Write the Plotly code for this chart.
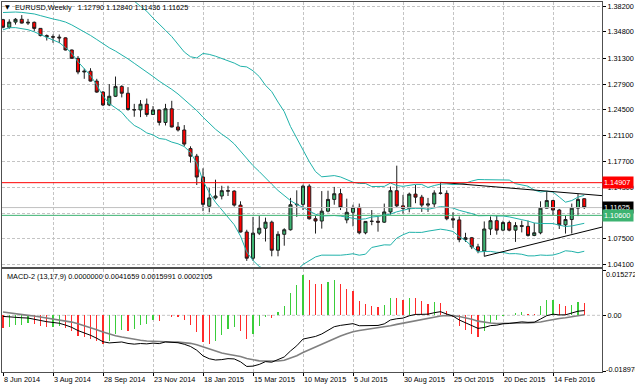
import numpy as np
import pandas as pd
import plotly.graph_objects as go

# ---------------- data (EURUSD weekly) ----------------
first_week = "2014-06-08"
opens = [1.3640, 1.3540, 1.3608, 1.3645, 1.3595, 1.3605, 1.3525, 1.3430, 1.3415, 1.3410,
         1.3400, 1.3240, 1.3130, 1.2950, 1.2960, 1.2830, 1.2685, 1.2515, 1.2630, 1.2760,
         1.2670, 1.2455, 1.2450, 1.2525, 1.2390, 1.2450, 1.2285, 1.2465, 1.2225, 1.2185,
         1.1940, 1.1840, 1.1565, 1.1180, 1.1290, 1.1315, 1.1385, 1.1380, 1.1195, 1.0840,
         1.0495, 1.0825, 1.0890, 1.0970, 1.0600, 1.0810, 1.0870, 1.1200, 1.1205, 1.1445,
         1.1015, 1.0985, 1.1115, 1.1270, 1.1345, 1.1000, 1.1100, 1.1165, 1.0830, 1.0980,
         1.0982, 1.0970, 1.1105, 1.1385, 1.1185, 1.1150, 1.1340, 1.1300, 1.1195, 1.1210,
         1.1355, 1.1350, 1.1015, 1.1000, 1.0740, 1.0765, 1.0645, 1.0590, 1.0880, 1.0990,
         1.0865, 1.0965, 1.0865, 1.0925, 1.0915, 1.0795, 1.0830, 1.1155, 1.1255, 1.1130,
         1.0935, 1.1005, 1.1155, 1.12790]
highs = [1.3650, 1.3645, 1.3660, 1.3700, 1.3650, 1.3615, 1.3530, 1.3445, 1.3445, 1.3445,
         1.3405, 1.3245, 1.3160, 1.2995, 1.3000, 1.2860, 1.2700, 1.2790, 1.2890, 1.2775,
         1.2750, 1.2530, 1.2580, 1.2600, 1.2500, 1.2455, 1.2530, 1.2570, 1.2290, 1.2250,
         1.1970, 1.1870, 1.1680, 1.1420, 1.1530, 1.1450, 1.1450, 1.1390, 1.1245, 1.0870,
         1.1040, 1.1050, 1.1030, 1.0990, 1.0850, 1.0890, 1.1290, 1.1390, 1.1465, 1.1470,
         1.1050, 1.1380, 1.1385, 1.1435, 1.1410, 1.1280, 1.1200, 1.1215, 1.0985, 1.1130,
         1.1040, 1.1215, 1.1440, 1.1715, 1.1330, 1.1360, 1.1460, 1.1330, 1.1290, 1.1390,
         1.1495, 1.1390, 1.1100, 1.1045, 1.0830, 1.0775, 1.0685, 1.0980, 1.1045, 1.1060,
         1.0990, 1.0990, 1.0970, 1.0990, 1.0990, 1.0960, 1.1245, 1.1375, 1.1265, 1.1145,
         1.1055, 1.1215, 1.1340, 1.12840]
lows = [1.3525, 1.3520, 1.3575, 1.3590, 1.3570, 1.3490, 1.3420, 1.3365, 1.3335, 1.3330,
        1.3235, 1.3125, 1.2920, 1.2860, 1.2825, 1.2675, 1.2500, 1.2500, 1.2620, 1.2615,
        1.2440, 1.2360, 1.2355, 1.2360, 1.2385, 1.2245, 1.2245, 1.2220, 1.2165, 1.1970,
        1.1755, 1.1460, 1.1115, 1.1100, 1.1270, 1.1270, 1.1315, 1.1175, 1.0835, 1.0460,
        1.0460, 1.0800, 1.0715, 1.0520, 1.0520, 1.0660, 1.0860, 1.1040, 1.1130, 1.1005,
        1.0820, 1.0885, 1.1100, 1.1200, 1.1130, 1.0955, 1.0915, 1.0810, 1.0810, 1.0930,
        1.0845, 1.0960, 1.1070, 1.1160, 1.1085, 1.1100, 1.1220, 1.1105, 1.1105, 1.1160,
        1.1335, 1.0995, 1.0895, 1.0705, 1.0710, 1.0615, 1.0560, 1.0520, 1.0800, 1.0805,
        1.0850, 1.0850, 1.0710, 1.0835, 1.0780, 1.0785, 1.0810, 1.1150, 1.1065, 1.0880,
        1.0820, 1.0820, 1.1050, 1.11436]
closes = [1.3540, 1.3608, 1.3645, 1.3595, 1.3605, 1.3525, 1.3430, 1.3415, 1.3410, 1.3400,
          1.3240, 1.3130, 1.2950, 1.2960, 1.2830, 1.2685, 1.2515, 1.2630, 1.2760, 1.2670,
          1.2455, 1.2450, 1.2525, 1.2390, 1.2450, 1.2285, 1.2465, 1.2225, 1.2185, 1.2000,
          1.1840, 1.1565, 1.1205, 1.1290, 1.1315, 1.1385, 1.1380, 1.1195, 1.0840, 1.0495,
          1.0825, 1.0890, 1.0970, 1.0600, 1.0810, 1.0870, 1.1200, 1.1205, 1.1445, 1.1015,
          1.0985, 1.1115, 1.1270, 1.1345, 1.1165, 1.1100, 1.1165, 1.0830, 1.0980, 1.0982,
          1.0970, 1.1105, 1.1385, 1.1185, 1.1150, 1.1340, 1.1300, 1.1195, 1.1210, 1.1355,
          1.1350, 1.1015, 1.1000, 1.0740, 1.0765, 1.0645, 1.0590, 1.0880, 1.0990, 1.0865,
          1.0965, 1.0865, 1.0925, 1.0915, 1.0795, 1.0830, 1.1155, 1.1255, 1.1130, 1.0935,
          1.1005, 1.1155, 1.1270, 1.11625]
# weekly closes before the visible window (indicator warm-up)
prior_closes = [1.3220, 1.3345, 1.3120, 1.3010, 1.2830, 1.3070, 1.3140, 1.3280, 1.3280, 1.3345,
                1.3330, 1.3380, 1.3220, 1.3180, 1.3300, 1.3525, 1.3525, 1.3555, 1.3545, 1.3685,
                1.3805, 1.3485, 1.3365, 1.3500, 1.3555, 1.3590, 1.3705, 1.3740, 1.3675, 1.3740,
                1.3590, 1.3665, 1.3540, 1.3680, 1.3485, 1.3635, 1.3690, 1.3740, 1.3805, 1.3875,
                1.3910, 1.3790, 1.3750, 1.3705, 1.3885, 1.3815, 1.3830, 1.3870, 1.3755, 1.3695,
                1.3630, 1.3635, 1.3640]

level_red = 1.14907
level_green = 1.10600
bid_level = 1.11625
res_line_dates = ["2015-10-11", "2016-04-08 21:00"]
res_line_prices = [1.1495, 1.1320]
sup_line_dates = ["2015-11-29", "2016-04-08 21:00"]
sup_line_prices = [1.0520, 1.0905]

price_ticks = [1.38200, 1.34800, 1.31300, 1.27900, 1.24500, 1.21100,
               1.17700, 1.14300, 1.10900, 1.07500, 1.04100]
price_tick_text = ["1.38200", "1.34800", "1.31300", "1.27900", "1.24500", "1.21100",
                   "1.17700", "1.14300", "", "1.07500", "1.04100"]
tick_dates = ["2014-06-08", "2014-08-03", "2014-09-28", "2014-11-23", "2015-01-18", "2015-03-15",
              "2015-05-10", "2015-07-05", "2015-08-30", "2015-10-25", "2015-12-20", "2016-02-14"]
tick_labels = ["8 Jun 2014", "3 Aug 2014", "28 Sep 2014", "23 Nov 2014", "18 Jan 2015", "15 Mar 2015",
               "10 May 2015", "5 Jul 2015", "30 Aug 2015", "25 Oct 2015", "20 Dec 2015", "14 Feb 2016"]
header_main = "EURUSD,Weekly\u00a0\u00a0 1.12790 1.12840 1.11436 1.11625"
header_macd = "MACD-2 (13,17,9) 0.0000000 0.0041659 0.0015991 0.0002105"
macd_top_label, macd_zero_label, macd_bottom_label = "0.0152720", "0.00", "-0.018970"

# ---------------- indicators (Bollinger 20,2 and MACD 13,17,9 of the closes) ----------------
dates = pd.date_range(first_week, periods=len(closes), freq="7D")
n = len(closes)
allc = pd.Series(prior_closes + closes, dtype=float)
mid = allc.rolling(20).mean()
sd = allc.rolling(20).std(ddof=0)
bb_up = (mid + 2 * sd).iloc[-n:].values
bb_mid = mid.iloc[-n:].values
bb_lo = (mid - 2 * sd).iloc[-n:].values
ema13 = allc.ewm(span=13, adjust=False).mean()
ema17 = allc.ewm(span=17, adjust=False).mean()
macd_all = ema13 - ema17
sig_all = macd_all.ewm(span=9, adjust=False).mean()
hist_all = 3 * (macd_all - sig_all)
macd_v = macd_all.iloc[-n:].values
sig_v = sig_all.iloc[-n:].values
hist_v = hist_all.iloc[-n:].values
prev = hist_all.shift(1).iloc[-n:].values
hist_colors = ["#3ACD3A" if h >= p else "#FF2A2A" for h, p in zip(hist_v, prev)]

# ---------------- geometry ----------------
W, H = 635, 391
week_ms = 7 * 24 * 3600 * 1000
px_per_week = 6.25
t0 = pd.Timestamp(first_week)
x_start = t0 - pd.Timedelta(milliseconds=week_ms * 1 / px_per_week)
x_end = t0 + pd.Timedelta(milliseconds=week_ms * (602 - 3) / px_per_week)
yd = lambda p: 1 - p / H

grid = "#c4c4c4"
frame = "#505050"
FONT = "Liberation Sans, Arial, sans-serif"
FS = 7.3

fig = go.Figure()
fig.add_trace(go.Candlestick(
    x=dates, open=opens, high=highs, low=lows, close=closes,
    increasing=dict(line=dict(color="#1e1e1e", width=1), fillcolor="#3CB371"),
    decreasing=dict(line=dict(color="#1e1e1e", width=1), fillcolor="#FF0000"),
    whiskerwidth=0, xaxis="x", yaxis="y", hoverinfo="skip"))
for arr in (bb_up, bb_mid, bb_lo):
    fig.add_trace(go.Scatter(x=dates, y=arr, mode="lines", line=dict(color="#20B2AA", width=1),
                             xaxis="x", yaxis="y", hoverinfo="skip"))
for dx, dy in ((res_line_dates, res_line_prices), (sup_line_dates, sup_line_prices)):
    fig.add_trace(go.Scatter(x=dx, y=dy, mode="lines", line=dict(color="black", width=1),
                             xaxis="x", yaxis="y", hoverinfo="skip"))

fig.add_trace(go.Bar(x=dates, y=hist_v, marker=dict(color=hist_colors, line=dict(width=0)),
                     width=week_ms * 1.4 / px_per_week, xaxis="x2", yaxis="y2", hoverinfo="skip"))
fig.add_trace(go.Scatter(x=dates, y=sig_v, mode="lines", line=dict(color="#808080", width=1.6),
                         xaxis="x2", yaxis="y2", hoverinfo="skip"))
fig.add_trace(go.Scatter(x=dates, y=macd_v, mode="lines", line=dict(color="black", width=1),
                         xaxis="x2", yaxis="y2", hoverinfo="skip"))

# horizontal levels
for lv, col in ((bid_level, "#C0C0C0"), (level_red, "#FF0000"), (level_green, "#3CB371")):
    fig.add_shape(type="line", xref="x domain", yref="y", x0=0, x1=1, y0=lv, y1=lv,
                  line=dict(color=col, width=1), layer="above")
fig.add_shape(type="line", xref="x2 domain", yref="y2", x0=0, x1=1, y0=0, y1=0,
              line=dict(color=grid, width=1, dash="3px,2px"), layer="below")

kpx = (0.015272 + 0.01897) / 100.5
xdom = [2 / W, 602 / W]
fig.update_layout(
    width=W, height=H, margin=dict(l=0, r=0, t=0, b=0),
    paper_bgcolor="white", plot_bgcolor="white", showlegend=False,
    font=dict(family=FONT, size=FS, color="black"),
    boxgap=0.3, boxgroupgap=0.3,
    bargap=0,
    xaxis=dict(domain=xdom, anchor="y", type="date", range=[x_start, x_end],
               tickvals=tick_dates, showticklabels=False, ticks="",
               showgrid=True, gridcolor=grid, griddash="3px,2px", gridwidth=1,
               showline=True, mirror=True, linecolor=frame, linewidth=1,
               zeroline=False, rangeslider=dict(visible=False), fixedrange=True),
    yaxis=dict(domain=[yd(267), yd(2)], anchor="x", side="right",
               range=[1.38200 - 261 / 758.5, 1.38200 + 4 / 758.5],
               tickvals=price_ticks, ticktext=price_tick_text,
               ticks="outside", ticklen=3, tickcolor="black", automargin=False,
               showgrid=True, gridcolor=grid, griddash="3px,2px", gridwidth=1,
               showline=True, mirror=True, linecolor=frame, linewidth=1, zeroline=False),
    xaxis2=dict(domain=xdom, anchor="y2", type="date", matches="x",
                tickvals=tick_dates, ticktext=tick_labels, ticks="outside", ticklen=3,
                tickcolor="black", ticklabelposition="outside right", tickangle=0, automargin=False,
                showgrid=True, gridcolor=grid, griddash="3px,2px", gridwidth=1,
                showline=True, mirror=True, linecolor=frame, linewidth=1, zeroline=False,
                rangeslider=dict(visible=False)),
    yaxis2=dict(domain=[yd(372), yd(269)], anchor="x2", side="right",
                range=[-0.01897 - 1 * kpx, 0.015272 + 1.5 * kpx],
                tickvals=[0.015272, 0.0, -0.01897], ticktext=["", macd_zero_label, ""],
                ticks="outside", ticklen=3, tickcolor="black", automargin=False,
                showgrid=False, showline=True, mirror=True, linecolor=frame, linewidth=1,
                zeroline=False),
)

ann = []
ann.append(dict(text="\u25bc", x=7.5 / W, y=yd(7), xref="paper", yref="paper", showarrow=False,
                font=dict(size=6, color="black", family="DejaVu Sans"), xanchor="center", yanchor="middle"))
ann.append(dict(text=header_main, x=12.5 / W, y=yd(7.5), xref="paper", yref="paper", showarrow=False,
                xanchor="left", yanchor="middle", font=dict(size=FS, color="black", family=FONT)))
ann.append(dict(text=header_macd, x=4.5 / W, y=yd(276), xref="paper", yref="paper", showarrow=False,
                xanchor="left", yanchor="middle", font=dict(size=FS, color="black", family=FONT)))
ann.append(dict(text=macd_top_label, x=604 / W, y=yd(274), xref="paper", yref="paper", showarrow=False,
                xanchor="left", yanchor="middle", font=dict(size=FS, color="black", family=FONT)))
ann.append(dict(text=macd_bottom_label, x=603.5 / W, y=yd(369.5), xref="paper", yref="paper", showarrow=False,
                xanchor="left", yanchor="middle", font=dict(size=FS, color="black", family=FONT)))
for lv, col in ((bid_level, "#000000"), (level_red, "#FF0000"), (level_green, "#3CB371")):
    ann.append(dict(text=f"{lv:.5f}\u00a0", x=602 / W, y=lv, xref="paper", yref="y", showarrow=False,
                    xanchor="left", yanchor="middle", bgcolor=col, borderpad=1,
                    font=dict(size=FS, color="white", family=FONT)))
fig.update_layout(annotations=ann)

fig.write_html("out.html", config={"displayModeBar": False, "staticPlot": True},
               post_script="document.body.style.margin='0px';document.body.style.overflow='hidden';")
